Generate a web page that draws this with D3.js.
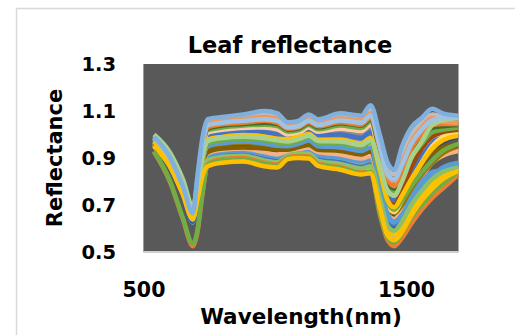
<!DOCTYPE html>
<html>
<head>
<meta charset="utf-8">
<script src="https://cdn.jsdelivr.net/npm/d3@7"></script>
<style>
  body { margin: 0; background: #fff; }
  text { font-family: "DejaVu Sans", sans-serif; font-weight: bold; fill: #000; }
</style>
</head>
<body>
<div id="chart"></div>
<script>
// wavelengths (nm) the spectra were read at
const wavelengths = [540, 600, 650, 688, 705, 725, 745, 800, 880, 960, 1010, 1050, 1090, 1130, 1165, 1250, 1330, 1365, 1400, 1430, 1455, 1485, 1520, 1560, 1600, 1640, 1700];

const yTicks = [0.5, 0.7, 0.9, 1.1, 1.3];
const xTicks = [500, 1500];

// one array per leaf spectrum
const s1 = [0.99, 0.905, 0.78, 0.665, 0.82, 0.99, 1.065, 1.075, 1.085, 1.10, 1.09, 1.052, 1.058, 1.085, 1.065, 1.09, 1.08, 1.125, 1.0, 0.88, 0.85, 0.95, 1.03, 1.07, 1.11, 1.09, 1.08];
const s2 = [0.975, 0.89, 0.77, 0.655, 0.80, 0.97, 1.055, 1.068, 1.075, 1.088, 1.08, 1.045, 1.05, 1.075, 1.055, 1.078, 1.07, 1.105, 0.98, 0.86, 0.83, 0.92, 1.0, 1.05, 1.085, 1.075, 1.07];
const s3 = [0.97, 0.885, 0.765, 0.65, 0.79, 0.96, 1.045, 1.058, 1.065, 1.075, 1.068, 1.038, 1.042, 1.065, 1.045, 1.068, 1.06, 1.09, 0.96, 0.83, 0.80, 0.88, 0.97, 1.03, 1.07, 1.055, 1.05];
const s4 = [0.985, 0.9, 0.78, 0.67, 0.80, 0.955, 1.04, 1.05, 1.058, 1.065, 1.058, 1.03, 1.035, 1.058, 1.04, 1.06, 1.05, 1.08, 0.95, 0.83, 0.81, 0.87, 0.96, 1.02, 1.06, 1.07, 1.075];
const s5 = [1.0, 0.92, 0.80, 0.69, 0.80, 0.95, 1.025, 1.038, 1.045, 1.05, 1.045, 1.02, 1.025, 1.048, 1.03, 1.048, 1.038, 1.065, 0.93, 0.80, 0.77, 0.83, 0.92, 0.98, 1.03, 1.035, 1.04];
const s6 = [0.995, 0.915, 0.795, 0.685, 0.80, 0.945, 1.018, 1.03, 1.038, 1.042, 1.036, 1.012, 1.018, 1.04, 1.022, 1.038, 1.028, 1.055, 0.92, 0.79, 0.76, 0.82, 0.90, 0.96, 1.01, 1.02, 1.03];
const s7 = [0.965, 0.88, 0.76, 0.65, 0.78, 0.93, 1.008, 1.02, 1.028, 1.03, 1.022, 1.0, 1.006, 1.03, 1.012, 1.025, 1.015, 1.04, 0.90, 0.77, 0.74, 0.80, 0.88, 0.94, 0.99, 1.005, 1.015];
const s8 = [0.96, 0.875, 0.755, 0.645, 0.77, 0.925, 1.0, 1.014, 1.022, 1.022, 1.012, 0.992, 0.998, 1.02, 1.0, 1.012, 1.0, 1.025, 0.89, 0.76, 0.73, 0.79, 0.87, 0.94, 0.985, 1.0, 1.01];
const s9 = [0.975, 0.885, 0.755, 0.635, 0.76, 0.915, 0.995, 1.008, 1.015, 1.01, 1.0, 0.99, 0.995, 1.018, 0.995, 1.0, 0.985, 1.01, 0.88, 0.75, 0.72, 0.77, 0.84, 0.92, 0.98, 1.0, 1.015];
const s10 = [0.98, 0.89, 0.76, 0.64, 0.76, 0.91, 0.985, 0.998, 1.005, 1.0, 0.99, 0.982, 0.988, 1.008, 0.985, 0.99, 0.975, 0.995, 0.87, 0.74, 0.71, 0.76, 0.83, 0.90, 0.96, 0.99, 1.005];
const s11 = [0.97, 0.88, 0.755, 0.645, 0.765, 0.905, 0.978, 0.99, 0.998, 0.992, 0.982, 0.98, 0.99, 1.002, 0.978, 0.978, 0.962, 0.985, 0.85, 0.72, 0.69, 0.74, 0.81, 0.88, 0.94, 0.975, 0.995];
const s12 = [1.0, 0.925, 0.81, 0.695, 0.78, 0.91, 0.972, 0.985, 0.99, 0.984, 0.975, 0.97, 0.98, 0.995, 0.972, 0.97, 0.955, 0.975, 0.87, 0.76, 0.74, 0.80, 0.90, 0.97, 1.04, 1.06, 1.07];
const s13 = [0.985, 0.905, 0.79, 0.675, 0.77, 0.9, 0.962, 0.975, 0.982, 0.975, 0.966, 0.962, 0.972, 0.988, 0.965, 0.962, 0.948, 0.968, 0.84, 0.71, 0.68, 0.72, 0.78, 0.84, 0.89, 0.93, 0.96];
const s14 = [0.96, 0.875, 0.755, 0.65, 0.76, 0.89, 0.955, 0.968, 0.975, 0.968, 0.958, 0.955, 0.965, 0.98, 0.957, 0.952, 0.938, 0.955, 0.83, 0.70, 0.67, 0.72, 0.80, 0.88, 0.95, 0.99, 1.01];
const s15 = [0.955, 0.87, 0.75, 0.645, 0.755, 0.885, 0.945, 0.958, 0.965, 0.955, 0.945, 0.945, 0.955, 0.97, 0.945, 0.94, 0.925, 0.94, 0.81, 0.69, 0.665, 0.70, 0.76, 0.83, 0.88, 0.92, 0.95];
const s16 = [0.97, 0.88, 0.75, 0.63, 0.75, 0.88, 0.935, 0.95, 0.955, 0.928, 0.922, 0.94, 0.948, 0.952, 0.935, 0.925, 0.905, 0.915, 0.80, 0.68, 0.655, 0.70, 0.78, 0.86, 0.93, 0.97, 0.99];
const s17 = [0.965, 0.88, 0.755, 0.64, 0.75, 0.875, 0.925, 0.94, 0.945, 0.94, 0.935, 0.935, 0.945, 0.955, 0.935, 0.93, 0.915, 0.93, 0.80, 0.71, 0.70, 0.73, 0.80, 0.87, 0.92, 0.945, 0.955];
const s18 = [0.95, 0.865, 0.745, 0.64, 0.74, 0.865, 0.92, 0.935, 0.94, 0.925, 0.915, 0.93, 0.938, 0.945, 0.925, 0.915, 0.898, 0.908, 0.78, 0.66, 0.64, 0.68, 0.75, 0.82, 0.88, 0.91, 0.93];
const s19 = [0.975, 0.885, 0.755, 0.625, 0.74, 0.86, 0.912, 0.926, 0.932, 0.915, 0.905, 0.925, 0.932, 0.935, 0.912, 0.902, 0.885, 0.895, 0.77, 0.65, 0.625, 0.66, 0.72, 0.78, 0.82, 0.86, 0.88];
const s20 = [0.955, 0.87, 0.75, 0.635, 0.735, 0.855, 0.905, 0.92, 0.925, 0.905, 0.898, 0.92, 0.928, 0.93, 0.9, 0.89, 0.872, 0.88, 0.74, 0.61, 0.585, 0.61, 0.68, 0.75, 0.80, 0.84, 0.875];
const s21 = [0.97, 0.88, 0.75, 0.63, 0.73, 0.85, 0.898, 0.912, 0.918, 0.898, 0.89, 0.915, 0.922, 0.924, 0.895, 0.882, 0.862, 0.872, 0.75, 0.64, 0.615, 0.65, 0.71, 0.77, 0.82, 0.85, 0.87];
const s22 = [0.99, 0.91, 0.79, 0.67, 0.74, 0.85, 0.89, 0.905, 0.91, 0.89, 0.882, 0.91, 0.918, 0.918, 0.888, 0.875, 0.855, 0.865, 0.73, 0.61, 0.59, 0.63, 0.70, 0.76, 0.81, 0.84, 0.86];
const s23 = [0.96, 0.875, 0.755, 0.645, 0.73, 0.845, 0.885, 0.9, 0.905, 0.885, 0.878, 0.905, 0.912, 0.912, 0.882, 0.868, 0.848, 0.855, 0.71, 0.58, 0.56, 0.58, 0.64, 0.70, 0.75, 0.79, 0.84];
const s24 = [0.95, 0.865, 0.745, 0.64, 0.725, 0.835, 0.878, 0.892, 0.898, 0.878, 0.872, 0.9, 0.906, 0.905, 0.875, 0.862, 0.84, 0.848, 0.72, 0.60, 0.575, 0.61, 0.68, 0.74, 0.79, 0.83, 0.855];
const s25 = [0.925, 0.80, 0.64, 0.525, 0.58, 0.75, 0.875, 0.895, 0.9, 0.88, 0.872, 0.902, 0.908, 0.906, 0.876, 0.862, 0.838, 0.84, 0.66, 0.55, 0.525, 0.56, 0.62, 0.68, 0.73, 0.77, 0.83];
const s26 = [0.93, 0.805, 0.645, 0.535, 0.59, 0.755, 0.87, 0.89, 0.895, 0.875, 0.868, 0.898, 0.905, 0.903, 0.872, 0.858, 0.835, 0.84, 0.67, 0.56, 0.54, 0.58, 0.645, 0.70, 0.75, 0.79, 0.84];
const s27 = [0.955, 0.87, 0.75, 0.645, 0.72, 0.825, 0.865, 0.88, 0.885, 0.865, 0.86, 0.895, 0.9, 0.898, 0.866, 0.85, 0.83, 0.835, 0.69, 0.57, 0.55, 0.585, 0.655, 0.72, 0.77, 0.81, 0.845];
const s28 = [0.98, 0.89, 0.76, 0.635, 0.755, 0.89, 0.95, 0.963, 0.97, 0.962, 0.952, 0.95, 0.96, 0.975, 0.95, 0.945, 0.93, 0.945, 0.79, 0.66, 0.63, 0.66, 0.73, 0.80, 0.84, 0.85, 0.88];
const s29 = [0.97, 0.885, 0.765, 0.65, 0.785, 0.945, 1.03, 1.043, 1.05, 1.058, 1.05, 1.025, 1.03, 1.052, 1.035, 1.052, 1.042, 1.07, 0.94, 0.81, 0.78, 0.85, 0.94, 1.0, 1.04, 1.045, 1.045];
const s30 = [0.96, 0.875, 0.755, 0.645, 0.76, 0.9, 0.97, 0.983, 0.99, 0.982, 0.972, 0.965, 0.975, 0.992, 0.968, 0.965, 0.95, 0.97, 0.84, 0.72, 0.70, 0.76, 0.86, 0.94, 0.99, 1.01, 1.02];

// drawing order (later ones sit on top) and their colours
const spectra = [s20, s23, s8, s2, s10, s9, s21, s19, s16, s18, s7, s15, s17, s14, s30, s28, s13, s6, s5, s29, s3, s11, s24, s22, s25, s26, s27, s12, s4, s1];
const colors = ["#A5A5A5", "#B7B7B7", "#8C8C8C", "#BDBDBD", "#698ED0", "#4472C4", "#4472C4", "#5B9BD5", "#264478", "#F4B183", "#F8CBAD", "#997300", "#806000", "#FFD966", "#9E480E", "#5B9BD5", "#70AD47", "#70AD47", "#43682B", "#ED7D31", "#F1975A", "#FFC000", "#FFC000", "#8CC168", "#ED7D31", "#70AD47", "#FFC000", "#A9D18E", "#9DC3E6", "#7FB0DE"];

const width = 515, height = 335;
const plot = { left: 143.5, right: 458.5, top: 64, bottom: 252 };

const svg = d3
  .select("#chart")
  .append("svg")
  .attr("width", width)
  .attr("height", height);

// chart frame
svg
  .append("rect")
  .attr("x", 16.5)
  .attr("y", 8.5)
  .attr("width", 600)
  .attr("height", 400)
  .attr("fill", "#fff")
  .attr("stroke", "#d9d9d9")
  .attr("stroke-width", 1.5);

const x = d3.scaleLinear().domain([500, 1700]).range([plot.left, plot.right]);
const y = d3.scaleLinear().domain([0.5, 1.3]).range([plot.bottom, plot.top]);

svg
  .append("rect")
  .attr("x", plot.left)
  .attr("y", plot.top)
  .attr("width", plot.right - plot.left)
  .attr("height", plot.bottom - plot.top)
  .attr("fill", "#595959");

svg
  .append("line")
  .attr("x1", plot.left)
  .attr("x2", plot.left)
  .attr("y1", plot.top)
  .attr("y2", plot.bottom)
  .attr("stroke", "#9a9a9a")
  .attr("stroke-width", 1);

svg
  .append("clipPath")
  .attr("id", "clip")
  .append("rect")
  .attr("x", plot.left)
  .attr("y", plot.top)
  .attr("width", plot.right - plot.left)
  .attr("height", plot.bottom - plot.top);

const lineGen = d3
  .line()
  .x((d, i) => x(wavelengths[i]))
  .y((d) => y(d))
  .curve(d3.curveMonotoneX);

svg
  .append("g")
  .attr("clip-path", "url(#clip)")
  .selectAll("path")
  .data(spectra)
  .enter()
  .append("path")
  .attr("d", lineGen)
  .attr("fill", "none")
  .attr("stroke", (d, i) => colors[i])
  .attr("stroke-width", 4.5)
  .attr("stroke-linejoin", "round");

// bottom axis line
svg
  .append("line")
  .attr("x1", plot.left)
  .attr("x2", plot.right)
  .attr("y1", plot.bottom)
  .attr("y2", plot.bottom)
  .attr("stroke", "#d0d0d0")
  .attr("stroke-width", 2);

const yAxis = svg
  .append("g")
  .attr("transform", "translate(116,0)")
  .call(d3.axisLeft(y).tickValues(yTicks).tickSize(0).tickPadding(0).tickFormat(d3.format(".1f")));
yAxis.select(".domain").remove();
yAxis.attr("font-size", 19.5);

const xAxis = svg
  .append("g")
  .attr("transform", "translate(0,282)")
  .call(d3.axisBottom(x).tickValues(xTicks).tickSize(0).tickPadding(0).tickFormat(d3.format("d")));
xAxis.select(".domain").remove();
xAxis.attr("font-size", 20.5);

svg
  .append("text")
  .attr("x", 290)
  .attr("y", 53)
  .attr("text-anchor", "middle")
  .attr("font-size", 22.5)
  .text("Leaf reflectance");

svg
  .append("text")
  .attr("x", 301)
  .attr("y", 324)
  .attr("text-anchor", "middle")
  .attr("font-size", 21.5)
  .text("Wavelength(nm)");

svg
  .append("text")
  .attr("transform", "translate(62,158) rotate(-90)")
  .attr("text-anchor", "middle")
  .attr("font-size", 21)
  .text("Reflectance");
</script>
</body>
</html>
